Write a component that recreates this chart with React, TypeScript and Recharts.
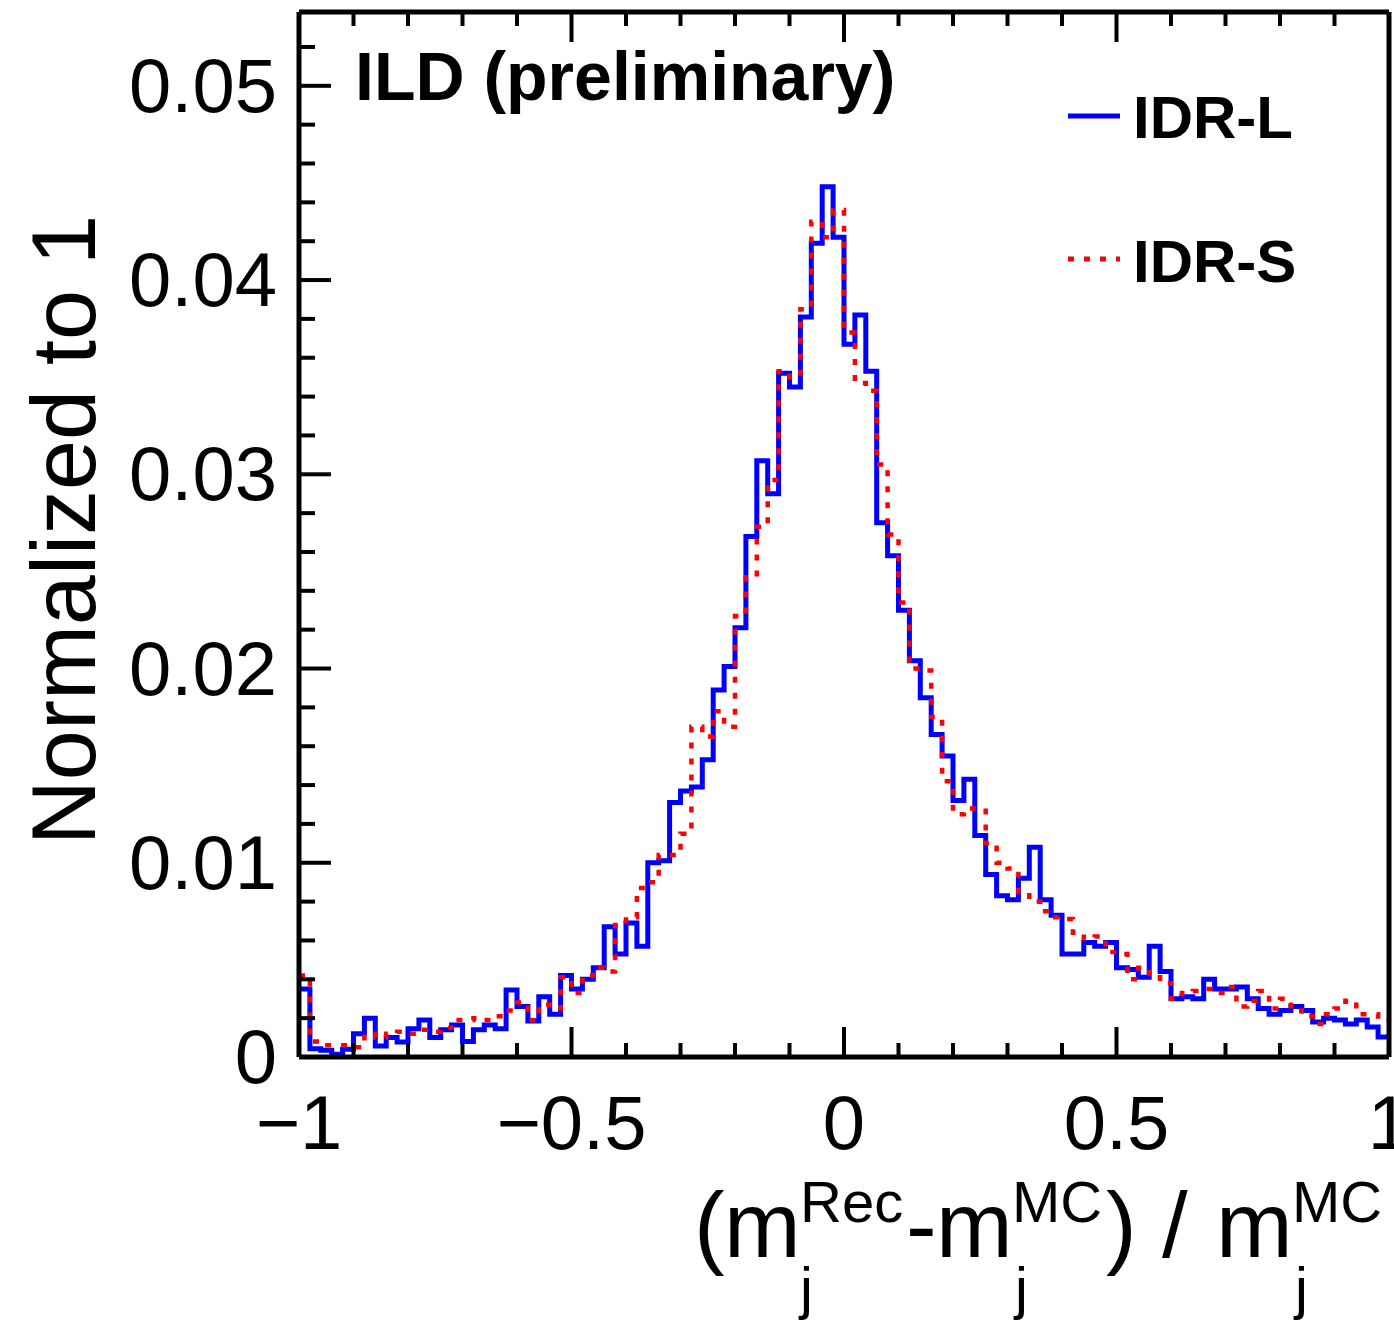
import React from "react";
import { LineChart, Line, XAxis, YAxis, Customized } from "recharts";

// histogram binning: 100 bins from -1 to 1
const LOW_EDGE = -1;
const BIN_WIDTH = 0.02;

// IDR-L (blue, solid), normalized to 1
const idrL = [
  0.0035, 0.00043, 0.00035, 0.00014, 0.0004, 0.0012, 0.002, 0.00057, 0.001, 0.00077,
  0.00146, 0.0019, 0.001, 0.0014, 0.00165, 0.0008, 0.0014, 0.00165, 0.00146, 0.00345,
  0.0026, 0.00185, 0.0031, 0.0022, 0.0042, 0.0035, 0.004, 0.0046, 0.0067, 0.0053,
  0.0069, 0.0057, 0.01, 0.0101, 0.0131, 0.0137, 0.0139, 0.0153, 0.0189, 0.0201,
  0.0221, 0.0268, 0.0307, 0.029, 0.0352, 0.0345, 0.0381, 0.0419, 0.0448, 0.0422,
  0.0367, 0.0382, 0.0353, 0.0275, 0.0258, 0.023, 0.0204, 0.0185, 0.0166, 0.0155,
  0.0132, 0.0143, 0.0114, 0.0094, 0.0083, 0.0081, 0.0092, 0.0108, 0.0081, 0.0073,
  0.0053, 0.0053, 0.0059, 0.0057, 0.0059, 0.0046, 0.0045, 0.0041, 0.0057, 0.0044,
  0.003, 0.0031, 0.003, 0.004, 0.0035, 0.0035, 0.0036, 0.003, 0.0025, 0.0022,
  0.0024, 0.0026, 0.0024, 0.0018, 0.002, 0.0019, 0.0017, 0.0019, 0.00155, 0.00103,
];

// IDR-S (red, dotted)
const idrS = [
  0.0042, 0.0008, 0.0006, 0.0006, 0.0006, 0.0005, 0.0012, 0.001, 0.0012, 0.0013,
  0.0012, 0.0014, 0.0013, 0.0015, 0.0019, 0.0019, 0.002, 0.0019, 0.0021, 0.0024,
  0.0028, 0.0019, 0.0027, 0.0025, 0.0041, 0.0033, 0.0042, 0.0046, 0.0044, 0.0068,
  0.0072, 0.0087, 0.009, 0.0104, 0.0104, 0.0115, 0.017, 0.0165, 0.0178, 0.017,
  0.0227, 0.0247, 0.0273, 0.0297, 0.0353, 0.035, 0.0385, 0.043, 0.0422, 0.0436,
  0.0373, 0.0347, 0.0343, 0.0305, 0.0269, 0.0234, 0.02, 0.0199, 0.0175, 0.0142,
  0.0125, 0.0128, 0.0128, 0.011, 0.01, 0.0097, 0.0085, 0.008, 0.0075, 0.0072,
  0.0071, 0.0064, 0.0061, 0.0062, 0.0054, 0.0053, 0.004, 0.0046, 0.0041, 0.0038,
  0.003, 0.0033, 0.0034, 0.0035, 0.0033, 0.0036, 0.0026, 0.0029, 0.0034, 0.0025,
  0.003, 0.0024, 0.0021, 0.0017, 0.0022, 0.0025, 0.0029, 0.0022, 0.0022, 0.0019,
];

const seriesNames = ["IDR-L", "IDR-S"];

const xMajor = [-1, -0.5, 0, 0.5, 1];
const xLabels = ["\u22121", "\u22120.5", "0", "0.5", "1"];
const xMinor = [-0.9, -0.8, -0.7, -0.6, -0.4, -0.3, -0.2, -0.1, 0.1, 0.2, 0.3, 0.4, 0.6, 0.7, 0.8, 0.9];

const yMajor = [0, 0.01, 0.02, 0.03, 0.04, 0.05];
const yLabels = ["0", "0.01", "0.02", "0.03", "0.04", "0.05"];
const yMinor = [
  0.002, 0.004, 0.006, 0.008, 0.012, 0.014, 0.016, 0.018, 0.022, 0.024, 0.026, 0.028,
  0.032, 0.034, 0.036, 0.038, 0.042, 0.044, 0.046, 0.048, 0.052,
];

const FONT = '"Liberation Sans", Arial, Helvetica, sans-serif';

// rows at bin low edges, plus closing point at the upper edge
const data = idrL.map((v, i) => ({ x: LOW_EDGE + i * BIN_WIDTH, l: v, s: idrS[i] }));
data.push({ x: LOW_EDGE + idrL.length * BIN_WIDTH, l: idrL[idrL.length - 1], s: idrS[idrS.length - 1] });

const xTicks = [...xMajor, ...xMinor].sort((a, b) => a - b);
const yTicks = [...yMajor, ...yMinor].sort((a, b) => a - b);

const majorIndex = (arr: number[], v: number) => arr.findIndex((m) => Math.abs(m - v) < 1e-9);

const BottomTick = (props: any) => {
  const { x, y, payload } = props;
  const i = majorIndex(xMajor, payload.value);
  const len = i >= 0 ? 30 : 14;
  return (
    <g>
      <line x1={x} x2={x} y1={y} y2={y - len} stroke="#000" strokeWidth={4} />
      {i >= 0 && (
        <text x={x} y={y + 92} textAnchor="middle" fontSize={76} fontFamily={FONT} fill="#000">
          {xLabels[i]}
        </text>
      )}
    </g>
  );
};

const TopTick = (props: any) => {
  const { x, y, payload } = props;
  const len = majorIndex(xMajor, payload.value) >= 0 ? 30 : 14;
  return <line x1={x} x2={x} y1={y} y2={y + len} stroke="#000" strokeWidth={4} />;
};

const LeftTick = (props: any) => {
  const { x, y, payload } = props;
  const i = majorIndex(yMajor, payload.value);
  const len = i >= 0 ? 32 : 16;
  return (
    <g>
      <line x1={x} x2={x + len} y1={y} y2={y} stroke="#000" strokeWidth={4} />
      {i >= 0 && (
        <text x={x - 22} y={y + 26} textAnchor="end" fontSize={76} fontFamily={FONT} fill="#000">
          {yLabels[i]}
        </text>
      )}
    </g>
  );
};

const RightTick = (props: any) => {
  const { x, y, payload } = props;
  const len = majorIndex(yMajor, payload.value) >= 0 ? 32 : 16;
  return <line x1={x} x2={x - len} y1={y} y2={y} stroke="#000" strokeWidth={4} />;
};

// titles, legend and ILD label
const Overlay = () => (
  <g fontFamily={FONT} fill="#000">
    <text x={355} y={100} fontSize={68} fontWeight="bold">ILD (preliminary)</text>

    <line x1={1068} x2={1120} y1={116} y2={116} stroke="#0000ff" strokeWidth={5} />
    <text x={1133} y={138} fontSize={60} fontWeight="bold">{seriesNames[0]}</text>
    <line x1={1068} x2={1120} y1={259} y2={259} stroke="#ff0000" strokeWidth={5} strokeDasharray="6 10" />
    <text x={1133} y={282} fontSize={60} fontWeight="bold">{seriesNames[1]}</text>

    <text transform="translate(95,530) rotate(-90)" textAnchor="middle" fontSize={90}>
      Normalized to 1
    </text>

    {/* x title: (m_j^Rec - m_j^MC) / m_j^MC */}
    <g fontSize={92}>
      <text x={694} y={1257}>(</text>
      <text x={724} y={1257}>m</text>
      <text x={800} y={1222} fontSize={58}>Rec</text>
      <text x={800} y={1308} fontSize={58}>j</text>
      <text x={906} y={1257}>-</text>
      <text x={936} y={1257}>m</text>
      <text x={1012} y={1222} fontSize={58}>MC</text>
      <text x={1015} y={1308} fontSize={58}>j</text>
      <text x={1106} y={1257}>)</text>
      <text x={1162} y={1257}>/</text>
      <text x={1216} y={1257}>m</text>
      <text x={1292} y={1222} fontSize={58}>MC</text>
      <text x={1295} y={1308} fontSize={58}>j</text>
    </g>
  </g>
);

export default function App() {
  return (
    <div style={{ position: "absolute", left: 0, top: 0, width: 1394, height: 1323, background: "#fff" }}>
      <LineChart
        width={1394}
        height={1323}
        data={data}
        margin={{ top: 11, right: 4, bottom: 265, left: 298 }}
      >
        <XAxis
          xAxisId="bottom"
          dataKey="x"
          type="number"
          domain={[-1, 1]}
          ticks={xTicks}
          interval={0}
          height={1}
          tickSize={0}
          tickMargin={0}
          tickLine={false}
          axisLine={{ stroke: "#000", strokeWidth: 5 }}
          tick={<BottomTick />}
        />
        <XAxis
          xAxisId="top"
          orientation="top"
          dataKey="x"
          type="number"
          domain={[-1, 1]}
          ticks={xTicks}
          interval={0}
          height={1}
          tickSize={0}
          tickMargin={0}
          tickLine={false}
          axisLine={{ stroke: "#000", strokeWidth: 5 }}
          tick={<TopTick />}
        />
        <YAxis
          yAxisId="left"
          type="number"
          domain={[0, 0.0538]}
          ticks={yTicks}
          interval={0}
          width={1}
          tickSize={0}
          tickMargin={0}
          tickLine={false}
          axisLine={{ stroke: "#000", strokeWidth: 5 }}
          tick={<LeftTick />}
        />
        <YAxis
          yAxisId="right"
          orientation="right"
          type="number"
          domain={[0, 0.0538]}
          ticks={yTicks}
          interval={0}
          width={1}
          tickSize={0}
          tickMargin={0}
          tickLine={false}
          axisLine={{ stroke: "#000", strokeWidth: 5 }}
          tick={<RightTick />}
        />
        <Line
          xAxisId="bottom"
          yAxisId="left"
          type="stepAfter"
          dataKey="l"
          name={seriesNames[0]}
          stroke="#0000ff"
          strokeWidth={5}
          dot={false}
          isAnimationActive={false}
        />
        <Line
          xAxisId="bottom"
          yAxisId="left"
          type="stepAfter"
          dataKey="s"
          name={seriesNames[1]}
          stroke="#ff0000"
          strokeWidth={4.5}
          strokeDasharray="6 10"
          dot={false}
          isAnimationActive={false}
        />
        <Customized component={<Overlay />} />
      </LineChart>
    </div>
  );
}
